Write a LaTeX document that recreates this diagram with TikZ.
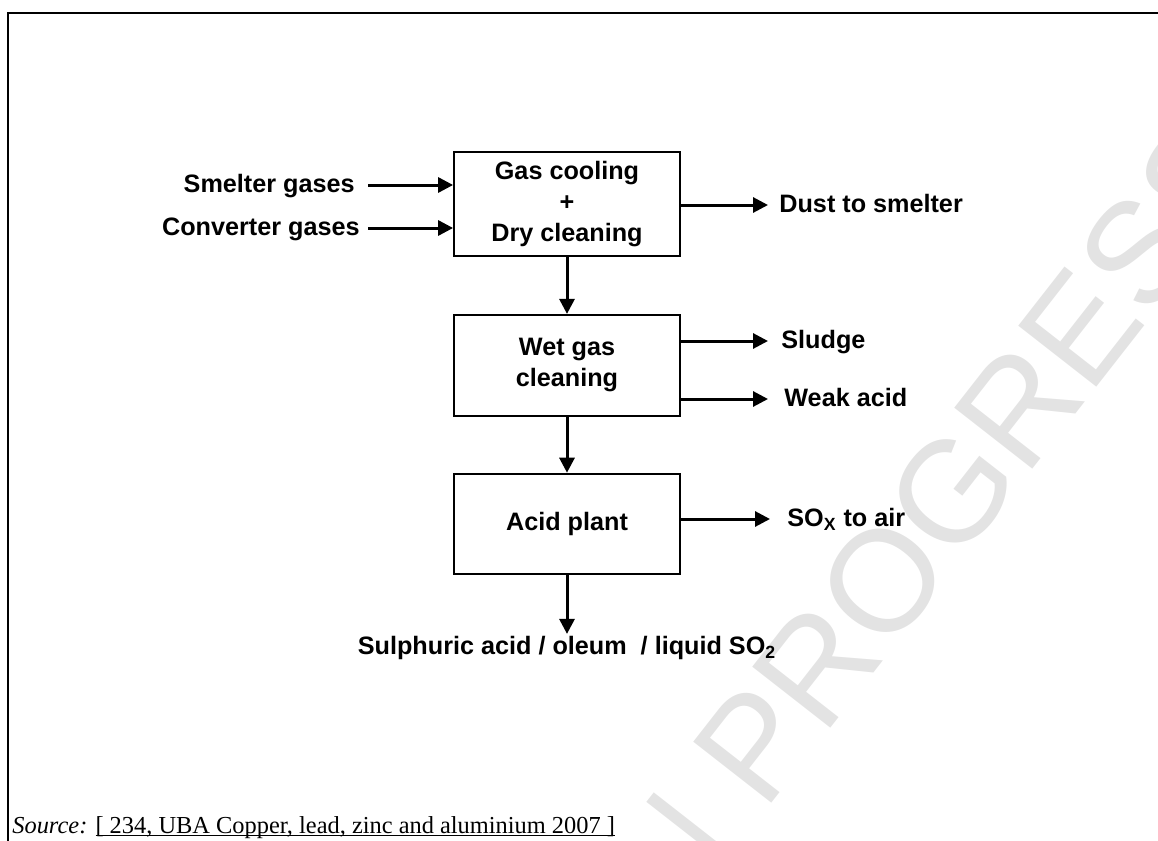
\documentclass[tikz,border=0pt]{standalone}
\usepackage{fontspec}
\setmainfont{Liberation Serif}
\setsansfont{Liberation Sans}
\usetikzlibrary{arrows.meta,positioning}

\begin{document}
\begin{tikzpicture}[x=0.5pt, y=-0.5pt, node distance=28.5pt,
    every node/.style={font=\sffamily\bfseries\fontsize{12.6pt}{15.6pt}\selectfont},
    unit/.style={rectangle, draw, line width=0.9pt, minimum width=113pt, align=center, inner sep=0pt},
    stream/.style={inner sep=0pt, text height=0.9em, text depth=0.184em},
    flow/.style={line width=1.5pt, -{Triangle[length=7.5pt,width=7.5pt]}}]
    \useasboundingbox (0,0) rectangle (1158,841);
    \clip (0,0) rectangle (1158,841);

    % watermark and frame
    \node [rotate=52, anchor=base west, inner sep=0pt, text=black!11, font=\sffamily\fontsize{72pt}{72pt}\selectfont] (mark) at (651,958) {IN PROGRESS};
    \draw [line width=1.2pt] (8,900) |- (1200,13);

    % process units
    \node [unit, minimum height=52pt] (dry) at (567,204) {Gas cooling\\+\\Dry cleaning};
    \node [unit, minimum height=50.5pt, below=of dry] (wet) {Wet gas\\cleaning};
    \node [unit, minimum height=50pt, below=28pt of wet] (acid) {Acid plant};

    % feeds
    \node [stream, anchor=east] (smelter) at (355,185) {Smelter gases};
    \node [stream, anchor=east] (converter) at (360,228) {Converter gases};
    \draw [flow, shorten <=6.5pt] (smelter.east) -- (smelter.east -| dry.west);
    \draw [flow, shorten <=4pt] (converter.east) -- (converter.east -| dry.west);

    % outputs
    \node [stream, anchor=west] (dust) at (779,205) {Dust to smelter};
    \node [stream, anchor=west] (sludge) at (781,341) {Sludge};
    \node [stream, anchor=west] (weak) at (784,399) {Weak acid};
    \node [stream, anchor=west] (sox) at (787,519) {SO\textsubscript{X} to air};
    \draw [flow, shorten >=5.5pt] (dust.west -| dry.east) -- (dust.west);
    \draw [flow, shorten >=6.5pt] (sludge.west -| wet.east) -- (sludge.west);
    \draw [flow, shorten >=8pt] (weak.west -| wet.east) -- (weak.west);
    \draw [flow, shorten >=8.5pt] (sox.west -| acid.east) -- (sox.west);

    % main line
    \node [stream, below=30.7pt of acid] (product) {Sulphuric acid / oleum~~/ liquid SO\textsubscript{2}};
    \draw [flow] (dry) -- (wet);
    \draw [flow] (wet) -- (acid);
    \draw [flow, shorten >=1pt] (acid) -- (product);

    \node [anchor=base west, inner sep=0pt, font=\rmfamily\fontsize{12.2pt}{14pt}\selectfont] (source) at (12,833) {\textit{Source:} \underline{\smash{[ 234, UBA Copper, lead, zinc and aluminium 2007 ]}}};
\end{tikzpicture}
\end{document}
